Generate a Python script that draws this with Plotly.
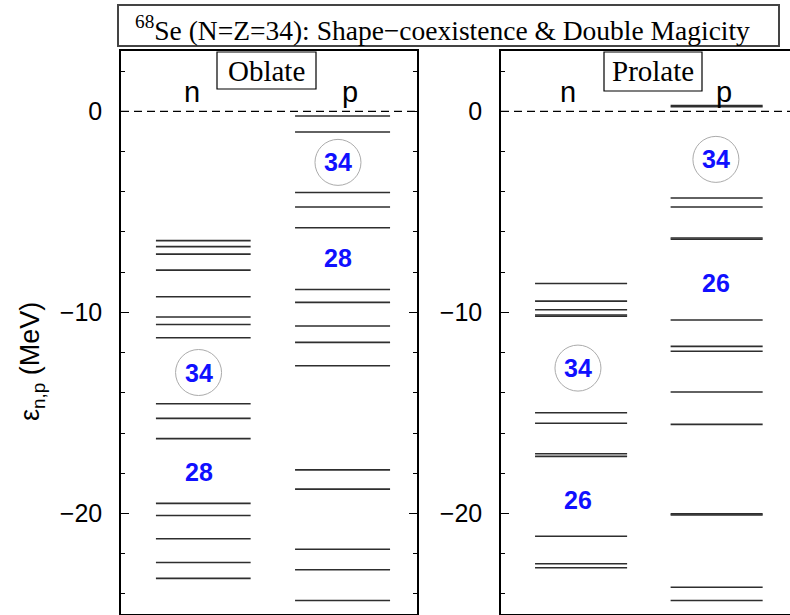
import plotly.graph_objects as go

# ---------------- data (MeV) ----------------
oblate_n = [-6.43, -6.73, -7.10, -7.90, -9.22, -10.23, -10.60, -11.26,
            -14.54, -15.27, -16.28, -19.50, -20.10, -21.26, -22.44, -23.23]
oblate_p = [-0.23, -1.03, -4.04, -4.76, -5.79, -8.86, -9.50, -10.68,
            -11.49, -12.65, -17.83, -18.79, -21.78, -22.80, -24.33]
prolate_n = [-8.56, -9.44, -9.87, -10.13, -10.19, -14.99, -15.51, -17.03,
             -17.16, -21.13, -22.50, -22.70]
prolate_p = [0.29, 0.23, -4.31, -4.76, -6.30, -6.36, -10.38, -11.69, -11.93,
             -13.96, -15.57, -20.02, -20.08, -23.67, -24.33]

# magic-number gap labels: (text, energy, circled)
oblate_n_gaps = [("34", -12.99, True), ("28", -17.94, False)]
oblate_p_gaps = [("34", -2.54, True), ("28", -7.30, False)]
prolate_n_gaps = [("34", -12.77, True), ("26", -19.32, False)]
prolate_p_gaps = [("34", -2.39, True), ("26", -8.52, False)]

y_range = [-25, 3]
W, H = 790, 615


def px(x):
    return x / W


def py(y):
    return 1 - y / H


fig = go.Figure()

LINE_COL = "#2e2e2e"


def add_levels(levels, x0, x1, xref, yref):
    xs, ys = [], []
    for e in levels:
        xs += [x0, x1, None]
        ys += [e, e, None]
    fig.add_trace(go.Scatter(x=xs, y=ys, mode="lines", xaxis=xref, yaxis=yref,
                             line=dict(color=LINE_COL, width=1.6),
                             hoverinfo="skip", showlegend=False))


def add_gaps(gaps, xc, xref, yref):
    for txt, e, circ in gaps:
        if circ:
            fig.add_trace(go.Scatter(x=[xc], y=[e], mode="markers", xaxis=xref, yaxis=yref,
                                     marker=dict(symbol="circle-open", size=46,
                                                 color="#ababab", line=dict(width=1)),
                                     hoverinfo="skip", showlegend=False))
        fig.add_annotation(x=xc, y=e, xref=xref, yref=yref, text=txt, showarrow=False,
                           font=dict(family="Liberation Sans, Arial", size=25, color="#1010ff",
                                     weight="bold"),
                           xanchor="center", yanchor="middle")


# Oblate panel
add_levels(oblate_n, 0.118, 0.438, "x", "y")
add_levels(oblate_p, 0.588, 0.909, "x", "y")
add_gaps(oblate_n_gaps, 0.262, "x", "y")
add_gaps(oblate_p_gaps, 0.733, "x", "y")
# Prolate panel
add_levels(prolate_n, 0.115, 0.426, "x2", "y2")
add_levels(prolate_p, 0.573, 0.884, "x2", "y2")
add_gaps(prolate_n_gaps, 0.260, "x2", "y2")
add_gaps(prolate_p_gaps, 0.726, "x2", "y2")

# column headers
for xc, txt, xref, yref in [(0.240, "n", "x", "y"), (0.774, "p", "x", "y"),
                            (0.226, "n", "x2", "y2"), (0.753, "p", "x2", "y2")]:
    fig.add_annotation(x=xc, y=0.95, xref=xref, yref=yref, text=txt, showarrow=False,
                       font=dict(family="Liberation Sans, Arial", size=29, color="black"),
                       xanchor="center", yanchor="middle")

# dashed zero lines
fig.add_shape(type="line", xref="x", yref="y", x0=0, x1=1, y0=0, y1=0,
              line=dict(color="black", width=1.2, dash="8px,5px"))
fig.add_shape(type="line", xref="x2", yref="y2", x0=0, x1=289 / 296, y0=0, y1=0,
              line=dict(color="black", width=1.2, dash="8px,5px"))

# title box
fig.add_shape(type="rect", xref="paper", yref="paper", x0=px(118), x1=px(779),
              y0=py(46), y1=py(5), line=dict(color="#444444", width=2), fillcolor="white")
fig.add_annotation(x=px(442), y=py(28), xref="paper", yref="paper",
                   text="<sup>68</sup>Se (N=Z=34): Shape\u2212coexistence &amp; Double Magicity",
                   showarrow=False, xanchor="center", yanchor="middle",
                   font=dict(family="Liberation Serif, Times New Roman", size=27.5, color="black"))

# shape boxes
for x0, x1, y1, txt in [(217, 316, 89, "Oblate"), (604, 702, 91, "Prolate")]:
    fig.add_shape(type="rect", xref="paper", yref="paper", x0=px(x0), x1=px(x1),
                  y0=py(y1), y1=py(52), line=dict(color="black", width=1.2), fillcolor="white",
                  layer="above")
    fig.add_annotation(x=px((x0 + x1) / 2), y=py((52 + y1) / 2), xref="paper", yref="paper",
                       text=txt, showarrow=False, xanchor="center", yanchor="middle",
                       font=dict(family="Liberation Serif, Times New Roman", size=29, color="black"))

# y-axis title
fig.add_annotation(x=px(32), y=py(362), xref="paper", yref="paper",
                   text="\u03b5<sub>n,p</sub> (MeV)", textangle=-90, showarrow=False,
                   xanchor="center", yanchor="middle",
                   font=dict(family="Liberation Sans, Arial", size=27, color="black"))

ydom = [py(614), py(51)]
tickfont = dict(family="Liberation Sans, Arial", size=25, color="black")
common_y = dict(range=y_range, domain=ydom, showline=True, linecolor="black", linewidth=1.5,
                ticks="inside", ticklen=8, tickwidth=1.3, tickcolor="black",
                tick0=0, dtick=10, tickfont=tickfont, showgrid=False, zeroline=False,
                minor=dict(dtick=2, tick0=0, ticks="inside", ticklen=4, tickwidth=1.3,
                           tickcolor="black", showgrid=False),
                ticklabelstandoff=12, fixedrange=True)
common_x = dict(showline=True, linecolor="black", linewidth=1.5, mirror=True, ticks="",
                showticklabels=False, showgrid=False, zeroline=False, fixedrange=True)

fig.update_layout(
    width=W, height=H, margin=dict(l=0, r=0, t=0, b=0),
    plot_bgcolor="white", paper_bgcolor="white", showlegend=False,
    xaxis=dict(domain=[px(121), px(417)], range=[0, 1], anchor="y", **common_x),
    yaxis=dict(anchor="x", mirror="ticks", **common_y),
    xaxis2=dict(domain=[px(501), 1.0], range=[0, 289 / 296], anchor="y2", **common_x),
    yaxis2=dict(anchor="x2", mirror=False, **common_y),
)

fig.write_html("out.html", config={"displayModeBar": False},
               post_script="document.body.style.margin='0';document.body.style.overflow='hidden';")
